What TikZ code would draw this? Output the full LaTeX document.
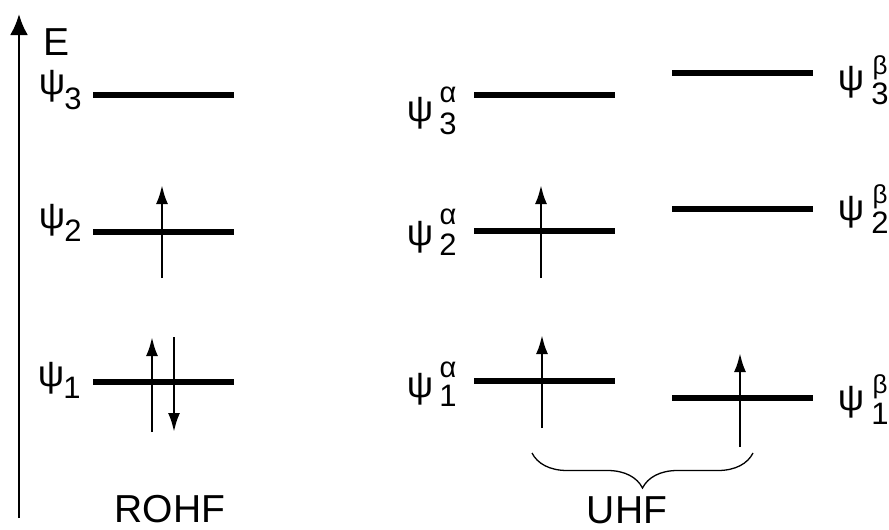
\documentclass[tikz,border=0pt]{standalone}
\usepackage{fontspec}
\setmainfont{Liberation Sans}
\usetikzlibrary{arrows.meta,decorations.pathreplacing}
\begin{document}
\begin{tikzpicture}[x=1pt,y=-1pt,
  lvl/.style={line width=5.5pt},
  spin/.style={line width=2.6pt,-{Latex[length=19pt,width=12pt]}},
  axisline/.style={line width=2.8pt,-{Latex[length=21pt,width=18pt]}},
  psi/.style={inner sep=0pt,font=\fontsize{37}{37}\selectfont},
  idx/.style={inner sep=0pt,font=\fontsize{31}{31}\selectfont},
  grka/.style={inner sep=0pt,font=\fontsize{29}{29}\selectfont},
  grkb/.style={inner sep=0pt,font=\fontsize{26}{26}\selectfont},
  big/.style={inner sep=0pt,font=\fontsize{39}{39}\selectfont},
  bracestyle/.style={line width=1.3pt,decorate,decoration={brace,amplitude=35pt,mirror}}]
\useasboundingbox (0,0) rectangle (889,530);
% axis
\coordinate (ax0) at (19,518);
\coordinate (ax1) at (19,14);
\draw[axisline] (ax0) -- (ax1);
\node[big] (E) at (57,42) {E};
% ROHF levels
\foreach \n/\y in {r3/95,r2/232,r1/382}{
  \coordinate (\n a) at (93,\y);
  \coordinate (\n b) at (234,\y);
  \draw[lvl] (\n a) -- (\n b);
}
% ROHF labels
\node[psi] (rp3) at (52,86) {ψ};  \node[idx] (rs3) at (73,99) {3};
\node[psi] (rp2) at (52,220) {ψ}; \node[idx] (rs2) at (73,231) {2};
\node[psi] (rp1) at (51,378) {ψ}; \node[idx] (rs1) at (72,388) {1};
% ROHF spins
\coordinate (s1a) at (162,278); \coordinate (s1b) at (162,185);
\draw[spin] (s1a) -- (s1b);
\coordinate (s2a) at (152,432); \coordinate (s2b) at (152,337);
\draw[spin] (s2a) -- (s2b);
\coordinate (s3a) at (174,337); \coordinate (s3b) at (174,432);
\draw[spin] (s3a) -- (s3b);
\node[big] (rohf) at (170,509) {ROHF};
% UHF alpha levels
\foreach \n/\y in {a3/95,a2/231,a1/381}{
  \coordinate (\n a) at (474,\y);
  \coordinate (\n b) at (615,\y);
  \draw[lvl] (\n a) -- (\n b);
}
% UHF beta levels
\foreach \n/\y in {b3/73,b2/209,b1/398}{
  \coordinate (\n a) at (672,\y);
  \coordinate (\n b) at (813,\y);
  \draw[lvl] (\n a) -- (\n b);
}
% alpha labels
\node[psi] (ap3) at (420,113) {ψ}; \node[grka] (ag3) at (448,95) {α};  \node[idx] (as3) at (448,124) {3};
\node[psi] (ap2) at (420,237) {ψ}; \node[grka] (ag2) at (448,217) {α}; \node[idx] (as2) at (448,245) {2};
\node[psi] (ap1) at (420,389) {ψ}; \node[grka] (ag1) at (448,370) {α}; \node[idx] (as1) at (448,396) {1};
% beta labels
\node[psi] (bp3) at (851,82) {ψ};  \node[grkb] (bg3) at (880,68) {β};  \node[idx] (bs3) at (880,94) {3};
\node[psi] (bp2) at (851,212) {ψ}; \node[grkb] (bg2) at (880,197) {β}; \node[idx] (bs2) at (880,223) {2};
\node[psi] (bp1) at (851,402) {ψ}; \node[grkb] (bg1) at (880,387) {β}; \node[idx] (bs1) at (880,414) {1};
% UHF spins
\coordinate (u1a) at (541,278); \coordinate (u1b) at (541,185);
\draw[spin] (u1a) -- (u1b);
\coordinate (u2a) at (542,428); \coordinate (u2b) at (542,335);
\draw[spin] (u2a) -- (u2b);
\coordinate (u3a) at (740,447); \coordinate (u3b) at (740,353);
\draw[spin] (u3a) -- (u3b);
% brace
\coordinate (bl) at (532,453);
\coordinate (br) at (753,453);
\draw[bracestyle] (bl) -- (br);
\node[big] (uhf) at (627,510) {UHF};
\end{tikzpicture}
\end{document}
